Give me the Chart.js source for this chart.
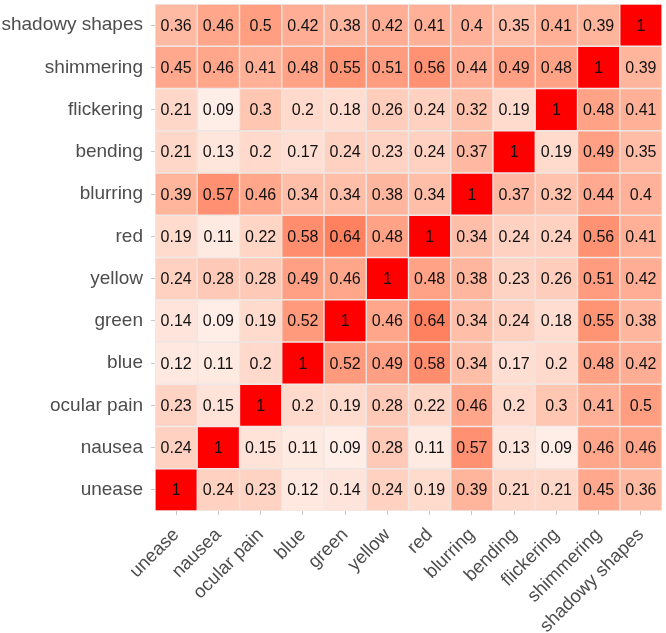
<!DOCTYPE html>
<html>
<head>
<meta charset="utf-8">
<script src="https://cdn.jsdelivr.net/npm/chart.js@4/dist/chart.umd.min.js"></script>
<style>
html,body{margin:0;padding:0;background:#fff;}
#wrap{width:666px;height:633px;}
</style>
</head>
<body>
<div id="wrap"><canvas id="c" width="666" height="633"></canvas></div>
<script>
// Variables, bottom row to top row (same order for columns left to right)
const variables = ['unease','nausea','ocular pain','blue','green','yellow','red','blurring','bending','flickering','shimmering','shadowy shapes'];

// Correlation rows (row label -> values per column in the same order as variables)
const rowUnease        = [1, 0.24, 0.23, 0.12, 0.14, 0.24, 0.19, 0.39, 0.21, 0.21, 0.45, 0.36];
const rowNausea        = [0.24, 1, 0.15, 0.11, 0.09, 0.28, 0.11, 0.57, 0.13, 0.09, 0.46, 0.46];
const rowOcularPain    = [0.23, 0.15, 1, 0.2, 0.19, 0.28, 0.22, 0.46, 0.2, 0.3, 0.41, 0.5];
const rowBlue          = [0.12, 0.11, 0.2, 1, 0.52, 0.49, 0.58, 0.34, 0.17, 0.2, 0.48, 0.42];
const rowGreen         = [0.14, 0.09, 0.19, 0.52, 1, 0.46, 0.64, 0.34, 0.24, 0.18, 0.55, 0.38];
const rowYellow        = [0.24, 0.28, 0.28, 0.49, 0.46, 1, 0.48, 0.38, 0.23, 0.26, 0.51, 0.42];
const rowRed           = [0.19, 0.11, 0.22, 0.58, 0.64, 0.48, 1, 0.34, 0.24, 0.24, 0.56, 0.41];
const rowBlurring      = [0.39, 0.57, 0.46, 0.34, 0.34, 0.38, 0.34, 1, 0.37, 0.32, 0.44, 0.4];
const rowBending       = [0.21, 0.13, 0.2, 0.17, 0.24, 0.23, 0.24, 0.37, 1, 0.19, 0.49, 0.35];
const rowFlickering    = [0.21, 0.09, 0.3, 0.2, 0.18, 0.26, 0.24, 0.32, 0.19, 1, 0.48, 0.41];
const rowShimmering    = [0.45, 0.46, 0.41, 0.48, 0.55, 0.51, 0.56, 0.44, 0.49, 0.48, 1, 0.39];
const rowShadowyShapes = [0.36, 0.46, 0.5, 0.42, 0.38, 0.42, 0.41, 0.4, 0.35, 0.41, 0.39, 1];

const rows = [rowUnease, rowNausea, rowOcularPain, rowBlue, rowGreen, rowYellow, rowRed,
              rowBlurring, rowBending, rowFlickering, rowShimmering, rowShadowyShapes];

// colour scale: white -> red interpolated in CIELAB over [0, 1]
const vMin = 0, vMax = 1;
function lab2rgb(L, a, b) {
  const fy = (L + 16) / 116, fx = fy + a / 500, fz = fy - b / 200;
  const f = t => (t * t * t > 0.008856 ? t * t * t : (t - 16 / 116) / 7.787);
  const X = 0.95047 * f(fx), Y = 1.0 * f(fy), Z = 1.08883 * f(fz);
  let r = 3.2406 * X - 1.5372 * Y - 0.4986 * Z;
  let g = -0.9689 * X + 1.8758 * Y + 0.0415 * Z;
  let bb = 0.0557 * X - 0.2040 * Y + 1.0570 * Z;
  const gam = c => {
    c = Math.max(0, Math.min(1, c));
    return Math.round(255 * (c <= 0.0031308 ? 12.92 * c : 1.055 * Math.pow(c, 1 / 2.4) - 0.055));
  };
  return `rgb(${gam(r)},${gam(g)},${gam(bb)})`;
}
const LOW = [100, 0, 0], HIGH = [53.2408, 80.0925, 67.2032];
function colorFor(v) {
  const t = (v - vMin) / (vMax - vMin);
  return lab2rgb(LOW[0] + (HIGH[0] - LOW[0]) * t, LOW[1] + (HIGH[1] - LOW[1]) * t, LOW[2] + (HIGH[2] - LOW[2]) * t);
}

const datasets = rows.map((vals, r) => ({
  label: variables[r],
  data: vals.map(() => [r, r + 1]),
  values: vals,
  backgroundColor: vals.map(colorFor),
  borderColor: 'rgba(225,215,212,0.55)',
  borderWidth: 1,
  borderSkipped: false,
  grouped: false,
  barPercentage: 1,
  categoryPercentage: 1
}));

const cellText = {
  id: 'cellText',
  afterDatasetsDraw(chart) {
    const ctx = chart.ctx;
    ctx.save();
    ctx.font = '16px "Liberation Sans", Arial, sans-serif';
    ctx.fillStyle = '#111';
    ctx.textAlign = 'center';
    ctx.textBaseline = 'middle';
    chart.data.datasets.forEach((ds, di) => {
      const meta = chart.getDatasetMeta(di);
      meta.data.forEach((el, i) => {
        const p = el.getProps(['x', 'y', 'base'], true);
        ctx.fillText(String(ds.values[i]), p.x, (p.y + p.base) / 2 + 1);
      });
    });
    ctx.restore();
  }
};

new Chart(document.getElementById('c'), {
  type: 'bar',
  data: { labels: variables, datasets },
  options: {
    responsive: false,
    animation: false,
    layout: { padding: { top: 4, right: 4, left: 0, bottom: 0 } },
    plugins: { legend: { display: false }, tooltip: { enabled: false } },
    scales: {
      x: {
        type: 'category',
        offset: true,
        grid: { display: true, drawOnChartArea: false, offset: false, tickLength: 4, color: '#c8c8c8', tickWidth: 1 },
        border: { display: false },
        ticks: {
          color: '#4d4d4d',
          font: { size: 18.5, family: '"Liberation Sans", Arial, sans-serif' },
          minRotation: 45, maxRotation: 45, padding: 9, autoSkip: false
        },
        afterFit(scale) { scale.height = 122; scale.paddingLeft = 0; scale.paddingRight = 0; }
      },
      y: {
        type: 'linear',
        min: 0, max: variables.length,
        grid: { display: true, drawOnChartArea: false, tickLength: 4, color: '#c8c8c8' },
        border: { display: false },
        afterBuildTicks(scale) { scale.ticks = variables.map((_, i) => ({ value: i + 0.5 })); },
        ticks: {
          color: '#4d4d4d',
          font: { size: 19, family: '"Liberation Sans", Arial, sans-serif' },
          padding: 8,
          callback: (v) => variables[Math.floor(v)]
        },
        afterFit(scale) { scale.width = 155; scale.paddingTop = 0; scale.paddingBottom = 0; }
      }
    }
  },
  plugins: [cellText]
});
</script>
</body>
</html>
